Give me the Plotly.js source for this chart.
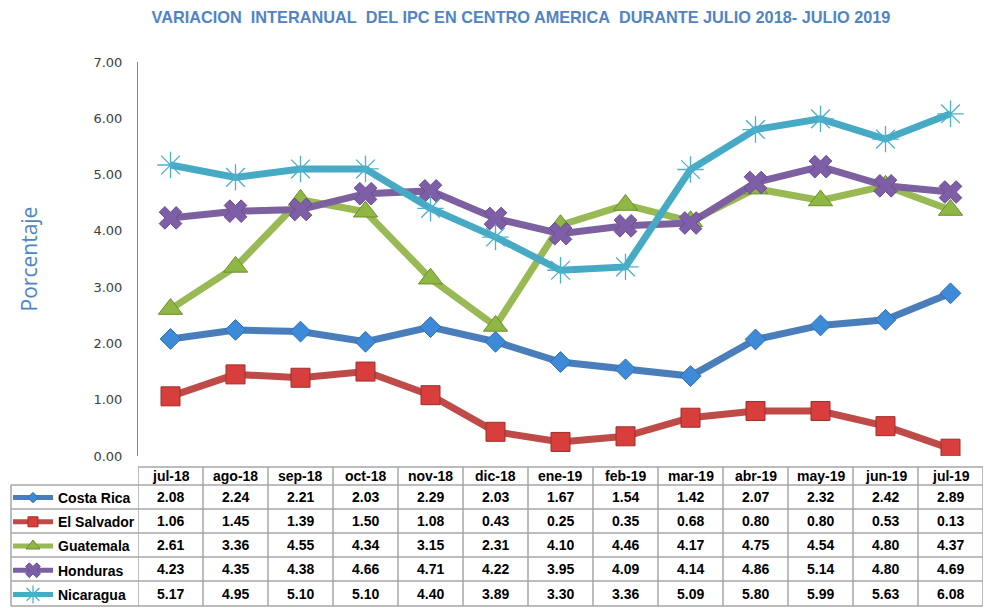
<!DOCTYPE html>
<html>
<head>
<meta charset="utf-8">
<script src="https://cdn.plot.ly/plotly-3.0.1.min.js"></script>
<style>html,body{margin:0;padding:0;background:#fff;}#chart{width:987px;height:608px;}</style>
</head>
<body>
<div id="chart"></div>
<script>
// ---- data ----
const categories = ['jul-18','ago-18','sep-18','oct-18','nov-18','dic-18','ene-19','feb-19','mar-19','abr-19','may-19','jun-19','jul-19'];
const seriesNames = ['Costa Rica','El Salvador','Guatemala','Honduras','Nicaragua'];
const costaRica  = [2.08,2.24,2.21,2.03,2.29,2.03,1.67,1.54,1.42,2.07,2.32,2.42,2.89];
const elSalvador = [1.06,1.45,1.39,1.50,1.08,0.43,0.25,0.35,0.68,0.80,0.80,0.53,0.13];
const guatemala  = [2.61,3.36,4.55,4.34,3.15,2.31,4.10,4.46,4.17,4.75,4.54,4.80,4.37];
const honduras   = [4.23,4.35,4.38,4.66,4.71,4.22,3.95,4.09,4.14,4.86,5.14,4.80,4.69];
const nicaragua  = [5.17,4.95,5.10,5.10,4.40,3.89,3.30,3.36,5.09,5.80,5.99,5.63,6.08];
const yTickValues = [0,1,2,3,4,5,6,7];

// ---- layout constants (pixels) ----
const W = 987, H = 608;
const plotLeft = 138, plotRight = 983, plotTop = 62, plotBottom = 456;
const rowLines = [467, 485, 509, 533, 557, 581, 606]; // table row borders
const legendColLeft = 11;
const toPaperY = p => (plotBottom - p) / (plotBottom - plotTop);
const toPaperX = p => (p - plotLeft) / (plotRight - plotLeft);

const allValues = [costaRica, elSalvador, guatemala, honduras, nicaragua];
const styles = [
  {line:'#4a7ebb', marker:{symbol:'diamond', size:16, color:'#3d8ad9', line:{color:'#2f6db0', width:1}}, legSize:8},
  {line:'#be4b48', marker:{symbol:'square', size:19, color:'#d83e3b', line:{color:'#9c2f2c', width:1}}, legSize:10},
  {line:'#98b954', marker:{symbol:'triangle-up', size:21, color:'#8fb744', line:{color:'#6b8f2c', width:1}}, legSize:12},
  {line:'#7d60a0', marker:{symbol:'x', size:20, color:'#7e5ea6', line:{color:'#6a4c90', width:1}}, legSize:13},
  {line:'#46aac5', marker:{symbol:'asterisk-open', size:22, color:'#4bb0cb', line:{color:'#5bbbd3', width:1.3}}, legSize:15}
];

// plotted series (no legend entries)
const traces = allValues.map((vals, i) => ({
  type:'scatter', mode:'lines+markers',
  x: categories, y: vals, name: seriesNames[i],
  showlegend:false,
  line:{color: styles[i].line, width:7},
  marker: styles[i].marker,
  hoverinfo:'x+y+name'
}));
// legend keys (traces without drawable points, smaller key markers like the data-table legend)
allValues.forEach((vals, i) => {
  traces.push({
    type:'scatter', mode:'lines+markers', x:[categories[0]], y:[null], name: seriesNames[i],
    legendgroup:'g'+i, showlegend:true,
    line:{color: styles[i].line, width:5},
    marker: Object.assign({}, styles[i].marker, {size: styles[i].legSize}),
    hoverinfo:'skip'
  });
});

const FONT = '"Liberation Sans", Arial, sans-serif';
const annotations = [];
const shapes = [];
const gridColor = '#a6a6a6';

// header row labels
categories.forEach((c, j) => {
  annotations.push({xref:'x', yref:'paper', x:j, y:toPaperY((rowLines[0]+rowLines[1])/2),
    text:'<b>'+c+'</b>', showarrow:false, font:{family:FONT, size:14, color:'#000'}, xanchor:'center', yanchor:'middle'});
});
// value rows
allValues.forEach((vals, i) => {
  const yc = toPaperY((rowLines[i+1]+rowLines[i+2])/2);
  vals.forEach((v, j) => {
    annotations.push({xref:'x', yref:'paper', x:j, y:yc,
      text:'<b>'+v.toFixed(2)+'</b>', showarrow:false, font:{family:FONT, size:14, color:'#000'}, xanchor:'center', yanchor:'middle'});
  });
});
// vertical borders between categories
for (let j = 0; j <= categories.length; j++) {
  shapes.push({type:'line', xref:'x', yref:'paper', x0:j-0.5, x1:j-0.5,
    y0:toPaperY(rowLines[0]), y1:toPaperY(rowLines[rowLines.length-1]), line:{color:gridColor, width:1.5}});
}
// legend column left border
shapes.push({type:'line', xref:'paper', yref:'paper', x0:toPaperX(legendColLeft), x1:toPaperX(legendColLeft),
  y0:toPaperY(rowLines[1]), y1:toPaperY(rowLines[rowLines.length-1]), line:{color:gridColor, width:1.5}});
// horizontal borders
rowLines.forEach((r, k) => {
  shapes.push({type:'line', xref:'paper', yref:'paper',
    x0: k === 0 ? 0 : toPaperX(legendColLeft), x1: 1,
    y0:toPaperY(r), y1:toPaperY(r), line:{color:gridColor, width:1.5}});
});

const layout = {
  width: W, height: H,
  margin:{l:plotLeft, r:W-plotRight, t:plotTop, b:H-plotBottom, autoexpand:false},
  paper_bgcolor:'#fff', plot_bgcolor:'#fff',
  title:{text:'VARIACION\u00A0 INTERANUAL\u00A0 DEL IPC EN CENTRO AMERICA\u00A0 DURANTE JULIO 2018- JULIO 2019',
    font:{family:FONT, size:16.3, color:'#5084c4', weight:'bold'},
    x:521/W, xref:'container', xanchor:'center', y:1-17/H, yref:'container', yanchor:'middle'},
  xaxis:{type:'category', range:[-0.5, categories.length-0.5], showticklabels:false, showline:false,
    showgrid:false, zeroline:false, ticks:'', fixedrange:true},
  yaxis:{range:[0,7], tickvals:yTickValues, tickformat:'.2f', showgrid:false, zeroline:false,
    showline:true, linecolor:'#868686', linewidth:1, ticks:'', ticklabelstandoff:12,
    tickfont:{family:'"DejaVu Sans", sans-serif', size:13, color:'#404040'},
    title:{text:'Porcentaje', font:{family:'"Open Sans", sans-serif', size:21, color:'#5084c4'}, standoff:50},
    automargin:false, fixedrange:true},
  showlegend:true,
  legend:{x:toPaperX(8), xanchor:'left', y:toPaperY(rowLines[1]-3), yanchor:'top',
    traceorder:'grouped', tracegroupgap:3, itemwidth:40, itemsizing:'trace', bgcolor:'rgba(0,0,0,0)', borderwidth:0,
    font:{family:FONT, size:14, color:'#000', weight:'bold'}},
  annotations: annotations,
  shapes: shapes
};

Plotly.newPlot('chart', traces, layout, {displayModeBar:false, staticPlot:true});
</script>
</body>
</html>
